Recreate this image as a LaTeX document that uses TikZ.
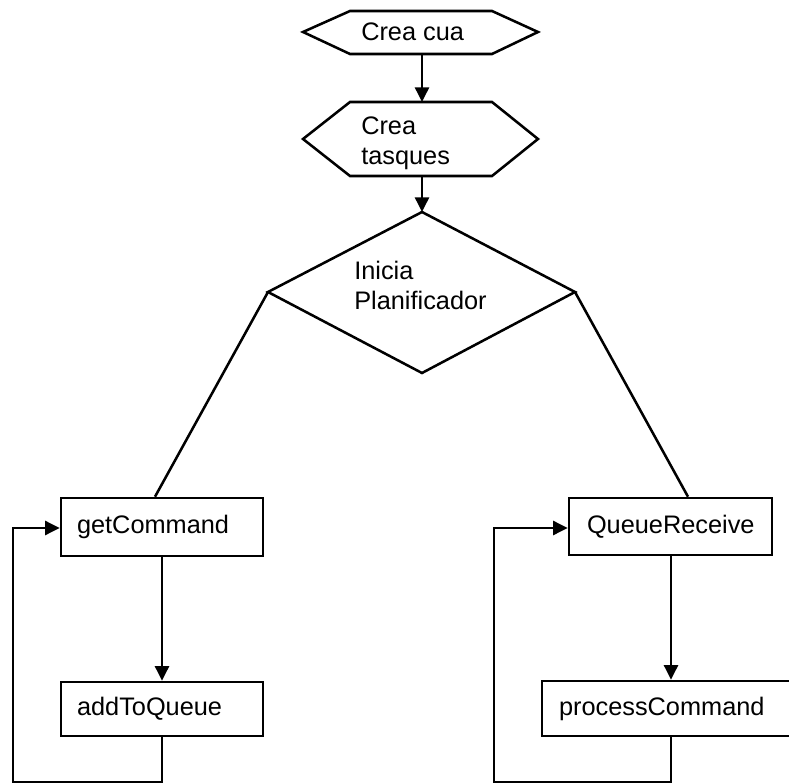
\documentclass[tikz,border=0pt]{standalone}
\usepackage{fontspec}
\setmainfont{Liberation Sans}
\usetikzlibrary{arrows.meta}
\begin{document}
\begin{tikzpicture}[x=0.75pt,y=-0.75pt,
  line width=1.9pt,
  every node/.style={font=\fontsize{19}{22.5}\selectfont},
  label/.style={anchor=west,align=left,inner sep=0pt},
  box/.style={draw,rectangle,align=left,inner ysep=0pt},
  flow/.style={-{Triangle[length=11pt,width=10.5pt]}},
  link/.style={line join=miter}]
\useasboundingbox (0,0) rectangle (789,784);
\clip (0,0) rectangle (789,784);

% hexagon: Crea cua
\draw (303,32) -- (350,11) -- (492,11) -- (538,32) -- (492,54) -- (350,54) -- cycle;
\coordinate (cua-s) at (422,54);
\node[label] (cua) at (360,32) {Crea cua};

% hexagon: Crea tasques
\draw (303,139) -- (350,102) -- (492,102) -- (538,139) -- (492,176) -- (350,176) -- cycle;
\coordinate (tasq-n) at (422,102);
\coordinate (tasq-s) at (422,176);
\node[label] (tasq) at (360,143) {Crea\\tasques};

% decision: Inicia Planificador
\draw (422,212) -- (575,292) -- (422,373) -- (268,292) -- cycle;
\coordinate (plan-n) at (422,212);
\coordinate (plan-w) at (268,292);
\coordinate (plan-e) at (575,292);
\node[label] (plan) at (353,285) {Inicia\\Planificador};

% left task
\node[box,inner xsep=12pt,text width=127.5pt,minimum height=43.5pt] (get) at (162,527) {getCommand};
\node[box,inner xsep=12pt,text width=127.5pt,minimum height=40.5pt] (add) at (162,709) {addToQueue};

% right task
\node[box,inner xsep=13.5pt,text width=125.25pt,minimum height=42.75pt] (recv) at (670.5,526.5) {QueueReceive};
\node[box,inner xsep=12.75pt,text width=168pt,minimum height=41.25pt] (proc) at (671,708.5) {processCommand};

% connectors
\draw[flow] (cua-s) -- (tasq-n);
\draw[flow] (tasq-s) -- (plan-n);
\draw (plan-w) -- (get.north -| 155,0);
\draw (plan-e) -- (recv.north -| 688,0);
\draw[flow] (get.south) -- (add.north);
\draw[flow] (recv.south -| proc.north) -- (proc.north);

% loops back to the start of each task
\coordinate (loopL) at (13,782);
\coordinate (loopR) at (494,782);
\draw[flow,link] (add.south) -- (add.south |- loopL) -- (loopL) -- (loopL |- 0,528) -- (get.west |- 0,528);
\draw[flow,link] (proc.south) -- (proc.south |- loopR) -- (loopR) -- (loopR |- 0,528) -- (recv.west |- 0,528);
\end{tikzpicture}
\end{document}
